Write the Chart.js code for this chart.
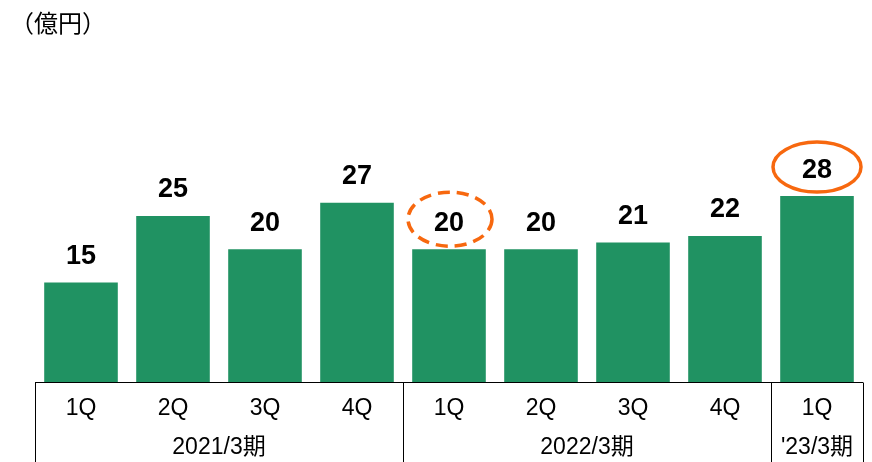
<!DOCTYPE html>
<html>
<head>
<meta charset="utf-8">
<script src="https://cdn.jsdelivr.net/npm/chart.js@4"></script>
<style>
  html, body { margin: 0; padding: 0; background: #fff; }
  #wrap { position: relative; width: 872px; height: 462px; }
</style>
</head>
<body>
<div id="wrap"><canvas id="c" width="872" height="462"></canvas></div>
<script>
const quarters = ['1Q', '2Q', '3Q', '4Q', '1Q', '2Q', '3Q', '4Q', '1Q'];
const values = [15, 25, 20, 27, 20, 20, 21, 22, 28];
const groups = [
  { label: '2021/3期', from: 0, to: 3 },
  { label: '2022/3期', from: 4, to: 7 },
  { label: '\'23/3期', from: 8, to: 8 },
];
const dashedAt = 4, solidAt = 8;

const GREEN = '#209262', ORANGE = '#F7680F';
const LABEL_FONT = '"Liberation Sans", "Noto Sans CJK JP", sans-serif';

const tablePlugin = {
  id: 'table',
  afterDatasetsDraw(chart) {
    const { ctx, chartArea: a, scales: { x } } = chart;
    const meta = chart.getDatasetMeta(0);
    const step = x.getPixelForValue(1) - x.getPixelForValue(0);
    const edge = i => x.getPixelForValue(i) - step / 2;
    ctx.save();

    // value labels
    ctx.fillStyle = '#000';
    ctx.font = 'bold 27px ' + LABEL_FONT;
    ctx.textAlign = 'center';
    ctx.textBaseline = 'middle';
    meta.data.forEach((bar, i) => ctx.fillText(String(values[i]), bar.x, bar.y - 26));

    // highlight ellipses
    ctx.strokeStyle = ORANGE;
    ctx.lineWidth = 3.5;
    let b = meta.data[dashedAt];
    ctx.setLineDash([12, 7]);
    ctx.beginPath();
    ctx.ellipse(b.x + 1, b.y - 30, 42, 27, 0, 0, Math.PI * 2);
    ctx.stroke();
    b = meta.data[solidAt];
    ctx.setLineDash([]);
    ctx.beginPath();
    ctx.ellipse(b.x, b.y - 29, 44, 25, 0, 0, Math.PI * 2);
    ctx.stroke();

    // table lines
    const y0 = Math.round(a.bottom) + 0.5;
    ctx.strokeStyle = '#000';
    ctx.lineWidth = 1;
    ctx.beginPath();
    ctx.moveTo(edge(0), y0);
    ctx.lineTo(edge(quarters.length), y0);
    [0, 4, 8, 9].forEach(i => {
      const xx = Math.round(edge(i)) + 0.5;
      ctx.moveTo(xx, y0);
      ctx.lineTo(xx, 462);
    });
    ctx.stroke();

    // quarter + group labels
    ctx.font = '23px ' + LABEL_FONT;
    quarters.forEach((q, i) => ctx.fillText(q, x.getPixelForValue(i), y0 + 26));
    groups.forEach(g => {
      const cx = (edge(g.from) + edge(g.to + 1)) / 2;
      ctx.fillText(g.label, cx, y0 + 65);
    });

    // unit
    ctx.textAlign = 'left';
    ctx.font = '24px "Noto Sans CJK JP", sans-serif';
    ctx.fillText('（億円）', 10, 23);
    ctx.restore();
  }
};

new Chart(document.getElementById('c'), {
  type: 'bar',
  data: {
    labels: quarters.map((q, i) => i),
    datasets: [{ data: values, backgroundColor: GREEN, barPercentage: 0.8, categoryPercentage: 1 }]
  },
  options: {
    responsive: false, animation: false,
    layout: { padding: { left: 35, right: 9, top: 50, bottom: 80 } },
    plugins: { legend: { display: false }, tooltip: { enabled: false } },
    scales: {
      x: { display: false },
      y: { display: false, min: 0, max: 50 }
    }
  },
  plugins: [tablePlugin]
});
</script>
</body>
</html>
